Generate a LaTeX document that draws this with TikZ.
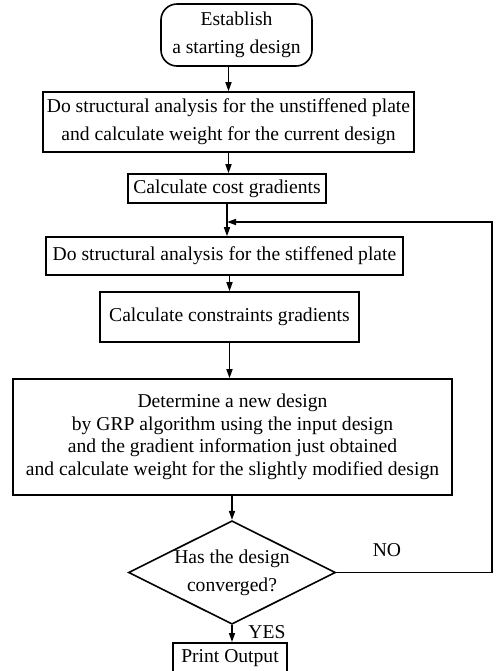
\documentclass[tikz,border=0pt]{standalone}
\usepackage{fontspec}
\setmainfont{Liberation Serif}
\usetikzlibrary{arrows.meta,shapes.geometric}
\begin{document}
\begin{tikzpicture}[x=0.5pt, y=-0.5pt,
    every node/.style={font=\fontsize{9.8}{14}\selectfont, align=center},
    box/.style={draw, line width=0.8pt, inner sep=0pt},
    arr/.style={line width=0.8pt, -{Triangle[length=4.5pt,width=3pt]}}]
  \useasboundingbox (0,0) rectangle (498,671);
  \node[box, rounded corners=8pt, minimum width=75.5pt, minimum height=31pt] (start) at (236.5,35) {Establish\\a starting design};
  \node[box, minimum width=185.5pt, minimum height=30pt] (plain) at (228.5,122) {Do structural analysis for the unstiffened plate\\and calculate weight for the current design};
  \node[box, minimum width=99pt, minimum height=14.5pt] (cost) at (227,188.5) {Calculate cost gradients};
  \node[box, minimum width=178.5pt, minimum height=19pt] (stiff) at (224.5,256) {Do structural analysis for the stiffened plate};
  \node[box, minimum width=129.5pt, minimum height=25pt] (cons) at (229.5,317) {Calculate constraints gradients};
  \node[box, minimum width=219.5pt, minimum height=58pt, font=\fontsize{9.8}{11.3}\selectfont] (grp) at (232.5,437) {Determine a new design\\by GRP algorithm using the input design\\and the gradient information just obtained\\and calculate weight for the slightly modified design};
  \node[box, diamond, aspect=2, minimum width=103pt, minimum height=50.5pt] (conv) at (232,572.5) {Has the design\\converged?};
  \node[box, anchor=north, minimum width=57pt, inner sep=3pt, text height=7pt, text depth=10pt] (out) at (230,642) {Print Output};
  \node (no) at (387,550) {NO};
  \node (yes) at (267,632) {YES};
  \coordinate (loop) at (492,222);
  % main line
  \draw[arr] (plain.north |- start.south) -- (plain.north);
  \draw[arr] (plain.south) -- (plain.south |- cost.north);
  \draw[arr] (cost.south) -- (cost.south |- stiff.north);
  \draw[arr] (cons.north |- stiff.south) -- (cons.north);
  \draw[arr] (cons.south) -- (cons.south |- grp.north);
  \draw[arr] (conv.north |- grp.south) -- (conv.north);
  \draw[arr] (conv.south) -- (conv.south |- out.north);
  % back to the stiffened plate
  \draw[arr] (conv.east) -| (loop) -- (loop -| cost.south);
\end{tikzpicture}
\end{document}
